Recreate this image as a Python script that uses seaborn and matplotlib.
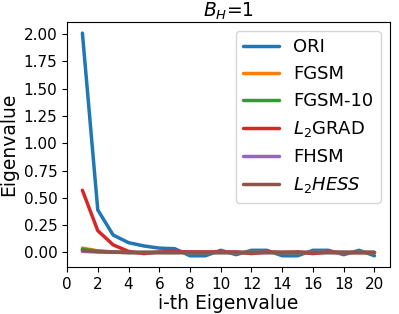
import numpy as np
import pandas as pd
import matplotlib
matplotlib.use("Agg")
import matplotlib.pyplot as plt
import seaborn as sns

idx = list(range(1, 21))
ori = [2.01, 0.39, 0.16, 0.09, 0.06, 0.04, 0.035, -0.03, -0.03, 0.02,
       -0.02, 0.02, 0.02, -0.03, -0.03, 0.02, 0.02, -0.02, 0.02, -0.03]
fgsm = [0.04, 0.015, 0.005, 0.0, 0.0, 0.0, 0.0, 0.0, 0.0, 0.0,
        0.0, 0.0, 0.0, 0.0, 0.0, 0.0, 0.0, 0.0, 0.0, 0.0]
fgsm10 = [0.03, 0.012, 0.004, 0.0, 0.0, 0.0, 0.0, 0.0, 0.0, 0.0,
          0.0, 0.0, 0.0, 0.0, 0.0, 0.0, 0.0, 0.0, 0.0, 0.0]
l2grad = [0.57, 0.2, 0.07, 0.01, -0.01, 0.005, 0.01, 0.005, 0.005, 0.005,
          0.005, -0.01, 0.005, 0.0, 0.005, -0.01, 0.005, 0.0, 0.0, 0.0]
fhsm = [0.01, 0.005, 0.002, 0.0, 0.0, 0.0, 0.0, 0.0, 0.0, 0.0,
        0.0, 0.0, 0.0, 0.0, 0.0, 0.0, 0.0, 0.0, 0.0, 0.0]
l2hess = [0.02, 0.008, 0.003, 0.0, 0.0, 0.0, 0.0, 0.0, 0.0, 0.0,
          0.0, 0.0, 0.0, 0.0, 0.0, 0.0, 0.0, 0.0, 0.0, 0.0]

names = ['ORI', 'FGSM', 'FGSM-10', r'$L_2$GRAD', 'FHSM', r'$L_2HESS$']
series = [ori, fgsm, fgsm10, l2grad, fhsm, l2hess]

df = pd.DataFrame({
    'idx': idx * len(names),
    'val': sum(series, []),
    'method': [n for n in names for _ in idx],
})

sns.set_style('ticks', {'axes.edgecolor': 'black', 'text.color': 'black',
                        'xtick.color': 'black', 'ytick.color': 'black',
                        'axes.labelcolor': 'black'})
plt.rcParams['font.family'] = ['DejaVu Sans']

fig, ax = plt.subplots(figsize=(3.99, 3.14), dpi=100)
sns.lineplot(data=df, x='idx', y='val', hue='method', hue_order=names,
             palette=sns.color_palette('tab10', 6), linewidth=2.5, ax=ax)
ax.set_xlim(0, 21)
ax.set_xticks(range(0, 21, 2))
ax.set_yticks(np.arange(0, 2.01, 0.25))
ax.tick_params(labelsize=11)
ax.set_xlabel('i-th Eigenvalue', fontsize=13.5, labelpad=2)
ax.set_ylabel('Eigenvalue', fontsize=13.5)
ax.set_title(r'$B_H$=1', fontsize=13.5, pad=3)
ax.legend(fontsize=13, loc='upper right')
fig.subplots_adjust(left=0.168, right=0.977, top=0.93, bottom=0.15)
fig.savefig('out.png', dpi=100)
